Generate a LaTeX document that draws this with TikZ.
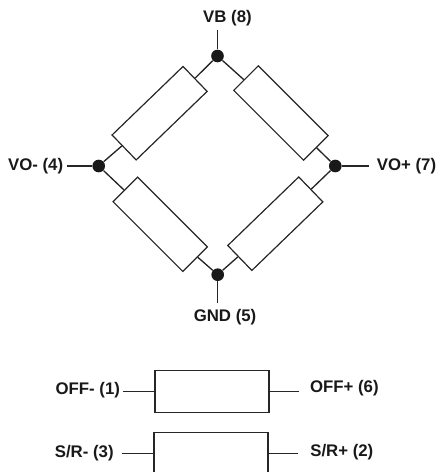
\documentclass[tikz,border=0pt]{standalone}
\usepackage{fontspec}
\setmainfont{Liberation Sans}
\usetikzlibrary{positioning}

\begin{document}
\begin{tikzpicture}[x=0.75pt,y=-0.75pt]
    \tikzstyle{dot}=[circle, fill=black!90, inner sep=0pt, minimum size=9.5pt]
    \tikzstyle{res}=[rectangle, draw=black!85, line width=0.9pt, minimum width=74pt, minimum height=26pt, inner sep=0pt]
    \tikzstyle{box}=[rectangle, draw=black!85, line width=1.1pt, minimum width=85.5pt, minimum height=31.5pt, inner sep=0pt]
    \tikzstyle{lbl}=[font=\bfseries\fontsize{12.6pt}{14pt}\selectfont, text=black!90, inner sep=0pt]
    \tikzstyle{lead}=[draw=black!85, line width=1pt]

      \useasboundingbox (0,0) rectangle (436,472);

      \node[dot] (vb) at (217.5,56) {};
      \node[dot] (vom) at (98.7,166) {};
      \node[dot] (vop) at (335.3,166) {};
      \node[dot] (gnd) at (217.7,274.7) {};
      \node[res, rotate=44] (rtl) at (159.6,113.2) {};
      \node[res, rotate=-45] (rtr) at (280.9,113) {};
      \node[res, rotate=-45] (rbl) at (160.2,224.3) {};
      \node[res, rotate=44] (rbr) at (275.3,223.7) {};
      \node[box] (offbox) at (212,391.7) {};
      \node[box] (srbox) at (211,453.5) {};

      \coordinate[above=14.5pt of vb] (vbend);
      \coordinate[below=16pt of gnd] (gndend);
      \coordinate[left=19pt of vom] (vomend);
      \coordinate[right=20pt of vop] (vopend);
      \coordinate[left=23.5pt of offbox] (offmend);
      \coordinate[right=22pt of offbox] (offpend);
      \coordinate[left=23.5pt of srbox] (srmend);
      \coordinate[right=22pt of srbox] (srpend);

      \node[lbl, xshift=7.5pt] (vblabel) [above=3pt of vbend] {VB (8)};
      \node[lbl, xshift=5.5pt] (gndlabel) [below=5pt of gndend] {GND (5)};
      \node[lbl] (vomlabel) [left=2.5pt of vomend] {VO- (4)};
      \node[lbl] (voplabel) [right=6pt of vopend] {VO+ (7)};
      \node[lbl, yshift=1.5pt] (offmlabel) [left=2pt of offmend] {OFF- (1)};
      \node[lbl, yshift=2.5pt] (offplabel) [right=8pt of offpend] {OFF+ (6)};
      \node[lbl] (srmlabel) [left=6pt of srmend] {S/R- (3)};
      \node[lbl, yshift=1pt] (srplabel) [right=9pt of srpend] {S/R+ (2)};

      \path[lead]
        (vb) edge (vbend)
        (gnd) edge (gndend)
        (vom) edge (vomend)
        (vop) edge (vopend)
        (vb) edge (rtl)
        (vb) edge (rtr)
        (vom) edge (rtl)
        (vom) edge (rbl)
        (vop) edge (rtr)
        (vop) edge (rbr)
        (gnd) edge (rbl)
        (gnd) edge (rbr)
        (offbox) edge (offmend)
        (offbox) edge (offpend)
        (srbox) edge (srmend)
        (srbox) edge (srpend);
    \end{tikzpicture}
\end{document}
